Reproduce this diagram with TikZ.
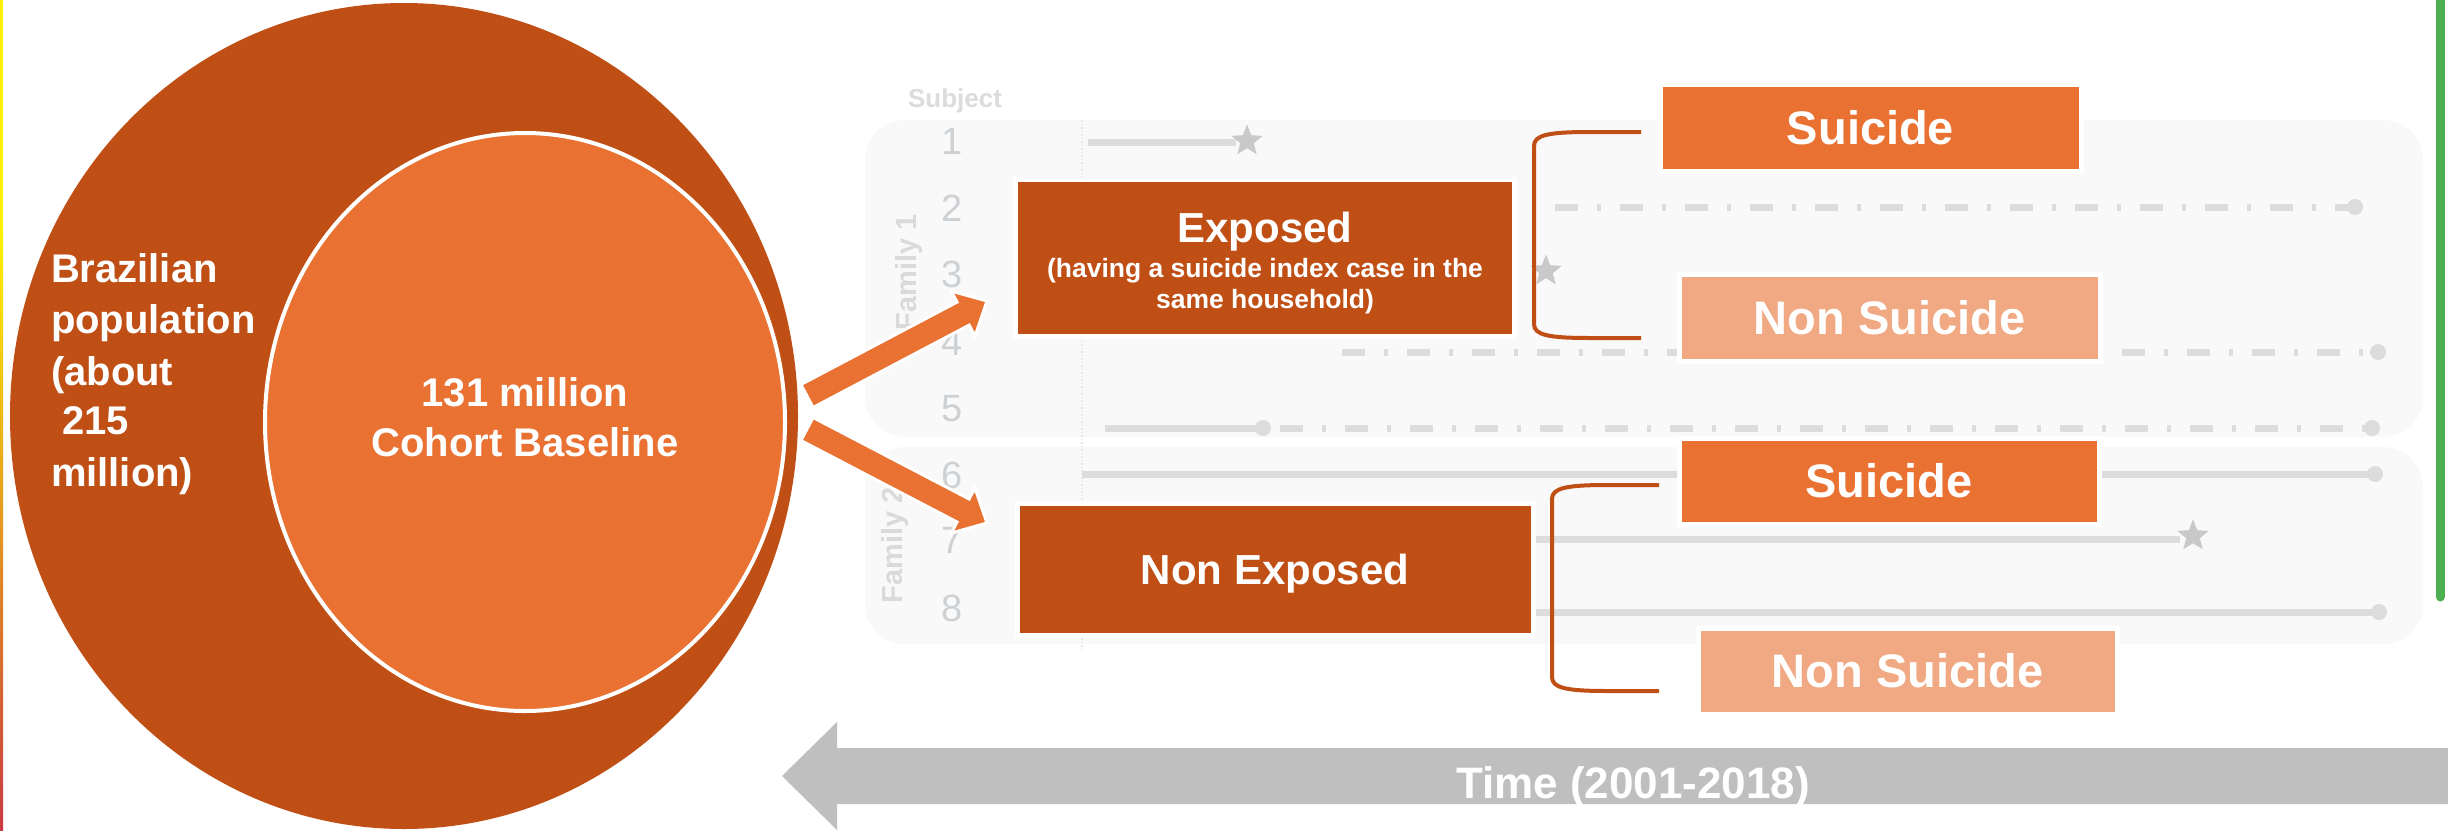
\documentclass[tikz,border=0pt]{standalone}
\usepackage{fontspec}
\setmainfont{Liberation Sans}
\usetikzlibrary{calc,shapes.geometric}
\definecolor{dorange}{HTML}{C04F15}
\definecolor{morange}{HTML}{E97132}
\definecolor{lorange}{HTML}{F1A983}
\definecolor{tgray}{HTML}{BFBFBF}
\definecolor{bgline}{HTML}{DCDCDC}
\definecolor{bgstar}{HTML}{C9C9C9}
\definecolor{bgnum}{HTML}{CED1D4}
\definecolor{bgfam}{HTML}{DADADA}
\definecolor{bgpanel}{HTML}{F9F9F9}
\definecolor{gline}{HTML}{4CAF50}
\definecolor{stripred}{HTML}{C83A42}
\definecolor{stripyel}{HTML}{FFF200}
\begin{document}
\begin{tikzpicture}[x=1pt,y=-1pt,
  every node/.style={inner sep=0pt,outer sep=0pt},
  boxst/.style={rectangle,draw=white,line width=5pt,text=white,text depth=0pt},
  bigtxt/.style={font=\bfseries\fontsize{47}{52}\selectfont,text height=33.7pt},
  medtxt/.style={font=\bfseries\fontsize{42}{50}\selectfont,text height=30pt},
  circtxt/.style={text=white,font=\bfseries\fontsize{40}{51}\selectfont},
  bgnumst/.style={text=bgnum,font=\fontsize{38}{40}\selectfont},
  famst/.style={text=bgfam,font=\bfseries\fontsize{29}{32}\selectfont,rotate=90},
  bglinest/.style={draw=bgline,line width=7pt},
  dashdot/.style={bglinest,dash pattern=on 23pt off 19pt on 4pt off 19pt},
  bgstarst/.style={star,star points=5,star point ratio=2.3,fill=bgstar,minimum size=33pt},
  bracketst/.style={draw=dorange,line width=4pt},
  blockarrow/.style={fill=morange,draw=white,line width=3pt,line join=miter},
]
\useasboundingbox (0,0) rectangle (2448,830);
\fill[white] (0,0) rectangle (2448,830);

% ---------- faded background chart ----------
\fill[bgpanel,rounded corners=40pt] (865,120) rectangle (2423,437);
\fill[bgpanel,rounded corners=40pt] (865,447) rectangle (2423,644);
\draw[bgline!70,line width=1.5pt,dotted] (1082,120) -- (1082,650);
\node[text=bgline,font=\bfseries\fontsize{26}{28}\selectfont,anchor=base] (subj) at (955,107) {Subject};
\foreach \n/\y in {1/141,2/208,3/274,4/342,5/409,6/475,7/540,8/608}
  \node[bgnumst] (num\n) at (952,\y) {\n};
\node[famst] (fam1) at (909,272) {Family 1};
\node[famst] (fam2) at (895,545) {Family 2};

\draw[bglinest] (1088,142) -- (1236,142);
\node[bgstarst] (st1) at (1247,141) {};
\draw[dashdot] (1100,207) -- (2355,207);
\fill[bgline] (2355,207) circle (8pt);
\draw[dashdot] (1100,272) -- (1532,272);
\node[bgstarst] (st3) at (1546,271) {};
\draw[dashdot] (1342,352) -- (2378,352);
\fill[bgline] (2378,352) circle (8pt);
\draw[bglinest] (1105,428) -- (1263,428);
\fill[bgline] (1263,428) circle (8pt);
\draw[dashdot] (1280,428) -- (2372,428);
\fill[bgline] (2372,428) circle (8pt);
\draw[bglinest] (1082,474) -- (2375,474);
\fill[bgline] (2375,474) circle (8pt);
\draw[bglinest] (1100,539) -- (2180,539);
\node[bgstarst] (st7) at (2193,536) {};
\draw[bglinest] (1100,612) -- (2379,612);
\fill[bgline] (2379,612) circle (8pt);

% ---------- circles ----------
\node[ellipse,fill=dorange,minimum width=788pt,minimum height=826pt] (pop) at (404,416) {};
\node[ellipse,fill=morange,draw=white,line width=4pt,minimum width=520pt,minimum height=578pt] (coh) at (525,422) {};

\node[circtxt,anchor=base west] (br1) at (51,282) {Brazilian};
\node[circtxt,anchor=base west] (br2) at (51,333) {population};
\node[circtxt,anchor=base west] (br3) at (51,385) {(about};
\node[circtxt,anchor=base west] (br4) at (51,434) {\ 215};
\node[circtxt,anchor=base west] (br5) at (51,486) {million)};
\node[circtxt,anchor=base] (co1) at (525,406) {131 million};
\node[circtxt,anchor=base] (co2) at (525,456) {Cohort Baseline};

% ---------- block arrows ----------
\coordinate (a1t) at (807,396);
\coordinate (a1p) at (987,301);
\coordinate (a2t) at (807,429);
\coordinate (a2p) at (987,523);
\foreach \t/\p in {a1t/a1p,a2t/a2p}{
  \coordinate (hh) at ($(\p)!27pt!(\t)$);
  \filldraw[blockarrow] ($(\t)!13pt!90:(\p)$) -- ($(hh)!13pt!90:(\p)$)
    -- ($(hh)!25.5pt!90:(\p)$) -- (\p) -- ($(hh)!25.5pt!-90:(\p)$)
    -- ($(hh)!13pt!-90:(\p)$) -- ($(\t)!13pt!-90:(\p)$) -- cycle;
}

% ---------- boxes ----------
\node[boxst,fill=dorange,minimum width=499pt,minimum height=157pt] (exp) at (1264.5,257.5) {};
\node[text=white,font=\bfseries\fontsize{42}{50}\selectfont,anchor=base] (expt) at (1265,242) {Exposed};
\node[text=white,font=\bfseries\fontsize{26.5}{30}\selectfont,anchor=base] (exps1) at (1265,277) {(having a suicide index case in the};
\node[text=white,font=\bfseries\fontsize{26.5}{30}\selectfont,anchor=base] (exps2) at (1265,308) {same household)};

\node[boxst,fill=dorange,medtxt,minimum width=516pt,minimum height=132pt] (nexp) at (1275,569) {Non Exposed};
\node[boxst,fill=morange,bigtxt,minimum width=421pt,minimum height=87pt] (su1) at (1870.5,127.5) {Suicide};
\node[boxst,fill=lorange,bigtxt,minimum width=421pt,minimum height=87pt] (ns1) at (1889.5,317.5) {Non Suicide};
\node[boxst,fill=morange,bigtxt,minimum width=420pt,minimum height=86pt] (su2) at (1889,481) {Suicide};
\node[boxst,fill=lorange,bigtxt,minimum width=419pt,minimum height=86pt] (ns2) at (1907.5,671) {Non Suicide};

% ---------- brackets ----------
\coordinate (b1t) at (1641,132);
\coordinate (b1b) at (1641,338);
\coordinate (b2t) at (1659,485);
\coordinate (b2b) at (1659,691);
\draw[bracketst] (b1t) -- (1590,132) .. controls (1548,132) and (1534,135) .. (1534,146)
  -- (1534,324) .. controls (1534,335) and (1548,338) .. (1590,338) -- (b1b);
\draw[bracketst] (b2t) -- (1608,485) .. controls (1566,485) and (1552,488) .. (1552,499)
  -- (1552,677) .. controls (1552,688) and (1566,691) .. (1608,691) -- (b2b);

% ---------- time arrow ----------
\fill[tgray] (782,776) -- (837,722) -- (837,748) -- (2448,748) -- (2448,804)
  -- (837,804) -- (837,830) -- cycle;
\node[text=white,font=\bfseries\fontsize{44}{50}\selectfont,anchor=base] (time) at (1633,798) {Time (2001-2018)};

% ---------- edge lines ----------
\fill[stripyel] (0,0) rectangle (3,230);
\shade[top color=stripyel,bottom color=stripred] (0,230) rectangle (3,830);
\draw[gline,line width=9pt,line cap=round] (2440,-10) -- (2440,597);
\end{tikzpicture}
\end{document}
